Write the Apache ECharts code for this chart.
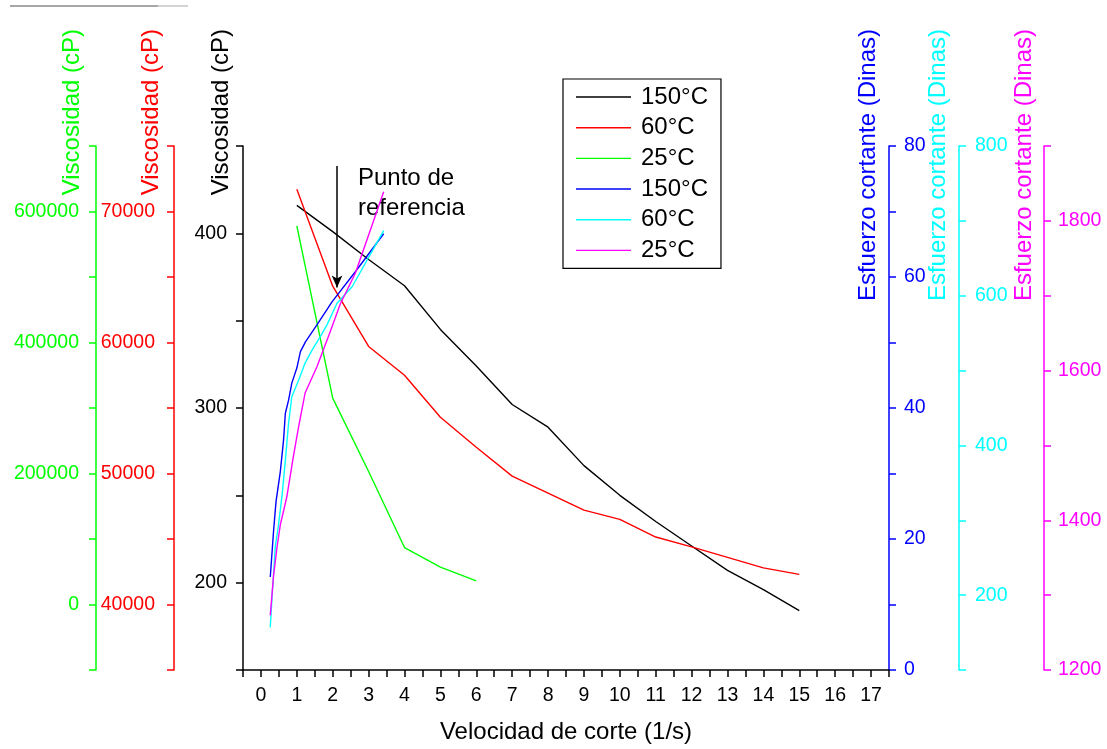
<!DOCTYPE html>
<html>
<head>
<meta charset="utf-8">
<script src="https://cdn.jsdelivr.net/npm/echarts/dist/echarts.min.js"></script>
<style>
  html, body { margin: 0; padding: 0; background: #fff; }
  #chart { width: 1107px; height: 749px; }
</style>
</head>
<body>
<div id="chart"></div>
<script>
// Shear rate (1/s) for the viscosity runs
const xVisc = [1, 2, 3, 4, 5, 6, 7, 8, 9, 10, 11, 12, 13, 14, 15];
const xVisc25 = [1, 2, 3, 4, 5, 6];

// Viscosity (cP)
const visc150 = [416, 401, 385, 370, 345, 324, 302, 289, 267, 250, 235, 221, 207, 196, 184];
const visc60 = [71700, 64300, 59700, 57500, 54300, 52000, 49800, 48500, 47200, 46500, 45150, 44400, 43600, 42800, 42300];
const visc25 = [578000, 315000, 203000, 87000, 57000, 36000];

// Shear stress (Dinas) against shear rate
const xStress150 = [0.26, 0.35, 0.42, 0.54, 0.63, 0.68, 0.77, 0.86, 1.0, 1.1, 1.24, 1.56, 1.98, 2.63, 3.42];
const stress150 = [14.2, 21.1, 25.7, 30.3, 35.1, 39.2, 41.2, 43.8, 46.1, 48.6, 50.1, 52.7, 56.2, 60.8, 66.6];
const xStress60 = [0.26, 0.31, 0.40, 0.49, 0.59, 0.68, 0.77, 0.86, 1.05, 1.23, 1.42, 1.65, 1.84, 2.12, 2.54, 3.42];
const stress60 = [157, 198, 265, 294, 334, 380, 430, 465, 487, 510, 527, 545, 561, 590, 612, 687];
const xStress25 = [0.26, 0.35, 0.45, 0.54, 0.72, 0.91, 1.05, 1.23, 1.56, 1.93, 2.21, 2.63, 3.42];
const stress25 = [1273, 1325, 1365, 1394, 1431, 1487, 1525, 1570, 1605, 1652, 1689, 1730, 1839];

// Legend labels and axis titles
const legendLabels = ['150°C', '60°C', '25°C', '150°C', '60°C', '25°C'];
const viscTitle = 'Viscosidad (cP)';
const stressTitle = 'Esfuerzo cortante (Dinas)';
const xTitle = 'Velocidad de corte (1/s)';
const noteText = 'Punto de\nreferencia';
// Reference arrow: shear rate and viscosity span (black axis)
const arrowX = 2.12;
const arrowFrom = 438.5;
const arrowTo = 369;

const FONT = '"Liberation Sans", Arial, sans-serif';
const LINE_ICON = 'path://M0,0 H100 V2.6 H0 Z';
const zip = (xs, ys) => xs.map((x, i) => [x, ys[i]]);

function yAxisDef(color, position, offset, min, max, interval, labelStep, margin) {
  return {
    type: 'value', position, offset, min, max, interval,
    axisLine: { show: true, onZero: false, lineStyle: { color, width: 1.5 } },
    axisTick: { show: true, inside: false, length: 7, lineStyle: { color, width: 1.5 } },
    axisLabel: {
      show: true, color, fontSize: 19.5, fontFamily: FONT, margin,
      showMinLabel: true, showMaxLabel: true,
      formatter: v => (Math.abs(v % labelStep) < 1e-9 ? String(v) : '')
    },
    splitLine: { show: false }
  };
}

function lineSeries(name, color, yAxisIndex, data, extra) {
  return Object.assign({
    name, type: 'line', yAxisIndex, data,
    symbol: 'none', smooth: false, animation: false,
    lineStyle: { color, width: 1.4 }, itemStyle: { color },
    emphasis: { disabled: true }
  }, extra || {});
}

function verticalTitle(text, x, color) {
  return {
    type: 'text', x, y: 29, rotation: Math.PI / 2, silent: true,
    style: { text, fill: color, font: '24px ' + FONT, align: 'right', verticalAlign: 'middle' }
  };
}

const seriesNames = ['v150', 'v60', 'v25', 's150', 's60', 's25'];

const chart = echarts.init(document.getElementById('chart'), null, { renderer: 'canvas' });
chart.setOption({
  animation: false,
  backgroundColor: '#fff',
  textStyle: { fontFamily: FONT },
  grid: { left: 243, right: 218, top: 146, bottom: 79, containLabel: false, outerBoundsMode: 'none' },
  legend: {
    orient: 'vertical', left: 563, top: 79,
    padding: [6, 13, 6, 13], itemWidth: 55, itemHeight: 24, itemGap: 6.67,
    borderColor: '#000', borderWidth: 1.2, selectedMode: false,
    icon: LINE_ICON,
    data: seriesNames.map(name => ({ name, icon: LINE_ICON })),
    formatter: name => legendLabels[seriesNames.indexOf(name)],
    textStyle: { fontSize: 24, color: '#000', fontFamily: FONT, padding: [0, 0, 0, 5] }
  },
  xAxis: {
    type: 'value', min: -0.5, max: 17.5, interval: 0.5,
    name: xTitle, nameLocation: 'middle', nameGap: 50,
    nameTextStyle: { fontSize: 24, color: '#000', fontFamily: FONT },
    axisLine: { show: true, onZero: false, lineStyle: { color: '#000', width: 1.5 } },
    axisTick: { show: true, length: 7, lineStyle: { color: '#000', width: 1.5 } },
    axisLabel: {
      color: '#000', fontSize: 19.5, fontFamily: FONT, margin: 16,
      formatter: v => (Number.isInteger(v) && v >= 0 ? String(v) : '')
    },
    splitLine: { show: false }
  },
  yAxis: [
    yAxisDef('#000000', 'left', 0, 150, 450, 50, 100, 16),
    yAxisDef('#ff0000', 'left', 69, 35000, 75000, 5000, 10000, 19),
    yAxisDef('#00ff00', 'left', 147, -100000, 700000, 100000, 200000, 17),
    yAxisDef('#0000ff', 'right', 0, 0, 80, 10, 20, 15),
    yAxisDef('#00ffff', 'right', 70, 100, 800, 100, 200, 16),
    yAxisDef('#ff00ff', 'right', 155, 1200, 1900, 100, 200, 14)
  ],
  series: [
    lineSeries('v150', '#000000', 0, zip(xVisc, visc150), {
      markLine: {
        silent: true, animation: false,
        symbol: ['none', 'arrow'], symbolSize: [8, 12],
        lineStyle: { color: '#000', width: 1.5, type: 'solid' },
        label: { show: false },
        data: [[{ coord: [arrowX, arrowFrom] }, { coord: [arrowX, arrowTo] }]]
      }
    }),
    lineSeries('v60', '#ff0000', 1, zip(xVisc, visc60)),
    lineSeries('v25', '#00ff00', 2, zip(xVisc25, visc25)),
    lineSeries('s150', '#0000ff', 3, zip(xStress150, stress150)),
    lineSeries('s60', '#00ffff', 4, zip(xStress60, stress60)),
    lineSeries('s25', '#ff00ff', 5, zip(xStress25, stress25))
  ],
  graphic: [
    verticalTitle(viscTitle, 72, '#00ff00'),
    verticalTitle(viscTitle, 151, '#ff0000'),
    verticalTitle(viscTitle, 221, '#000000'),
    verticalTitle(stressTitle, 868, '#0000ff'),
    verticalTitle(stressTitle, 938, '#00ffff'),
    verticalTitle(stressTitle, 1024, '#ff00ff'),
    {
      type: 'text', x: 358, y: 163, silent: true,
      style: { text: noteText, fill: '#000', font: '24px ' + FONT, lineHeight: 30, align: 'left', verticalAlign: 'top' }
    },
    {
      type: 'line', silent: true,
      shape: { x1: 10, y1: 6, x2: 158, y2: 6 },
      style: { stroke: '#8a8a8a', lineWidth: 1.5 }
    },
    {
      type: 'line', silent: true,
      shape: { x1: 158, y1: 6, x2: 188, y2: 6 },
      style: { stroke: '#c4c4c4', lineWidth: 1.5 }
    }
  ]
});
</script>
</body>
</html>
